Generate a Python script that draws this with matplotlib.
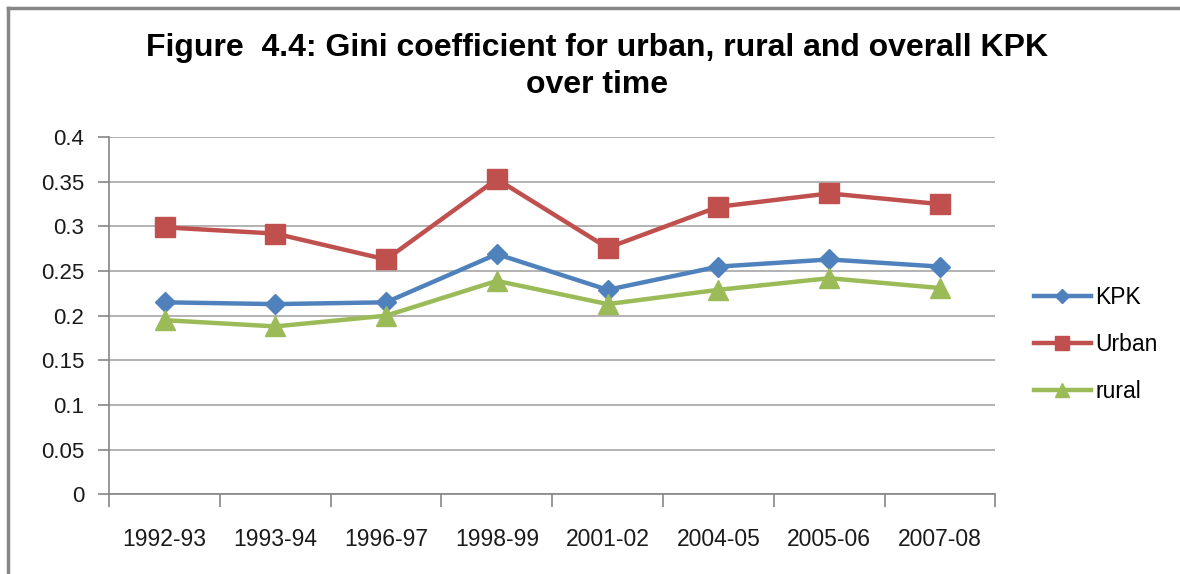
import matplotlib.pyplot as plt
from matplotlib.lines import Line2D

# Data
years = ['1992-93', '1993-94', '1996-97', '1998-99', '2001-02', '2004-05', '2005-06', '2007-08']
kpk = [0.215, 0.213, 0.215, 0.269, 0.229, 0.255, 0.263, 0.255]
urban = [0.299, 0.292, 0.263, 0.353, 0.276, 0.322, 0.337, 0.325]
rural = [0.195, 0.188, 0.200, 0.239, 0.213, 0.229, 0.242, 0.231]

plt.rcParams['font.family'] = ['Liberation Sans', 'DejaVu Sans']

fig = plt.figure(figsize=(11.8, 5.74), dpi=100)
ax = fig.add_axes([0.0925, 0.139, 0.751, 0.622])

x = list(range(len(years)))
ax.plot(x, kpk, color='#4F81BD', linewidth=3.2, marker='D', markersize=10, label='KPK')
ax.plot(x, urban, color='#C0504D', linewidth=3.2, marker='s', markersize=14, label='Urban')
ax.plot(x, rural, color='#9BBB59', linewidth=3.2, marker='^', markersize=14, label='rural')

ax.set_xlim(-0.5, len(years) - 0.5)
ax.set_ylim(0, 0.4)
yt = [0, 0.05, 0.1, 0.15, 0.2, 0.25, 0.3, 0.35, 0.4]
ax.set_yticks(yt)
ax.set_yticklabels(['0', '0.05', '0.1', '0.15', '0.2', '0.25', '0.3', '0.35', '0.4'])
ax.grid(axis='y', color='#A6A6A6', linewidth=1.2)
ax.set_axisbelow(True)

# category labels centred, tick marks on boundaries
ax.set_xticks(x)
ax.set_xticklabels(years)
ax.tick_params(axis='x', length=0, pad=24, labelsize=16.5, colors='#1a1a1a')
ax.set_xticks([i - 0.5 for i in range(len(years) + 1)], minor=True)
ax.tick_params(axis='x', which='minor', length=9, width=1.2, color='#868686', direction='out')
ax.tick_params(axis='y', length=8, width=1.2, color='#868686', labelsize=16, pad=10, labelcolor='#1a1a1a')

for side in ['top', 'right']:
    ax.spines[side].set_visible(False)
for side in ['left', 'bottom']:
    ax.spines[side].set_color('#868686')
    ax.spines[side].set_linewidth(1.2)

fig.text(0.506, 0.884, 'Figure  4.4: Gini coefficient for urban, rural and overall KPK\nover time',
         ha='center', va='center', fontsize=23, fontweight='bold', linespacing=1.32)

ax.legend(loc='center left', bbox_to_anchor=(1.02, 0.42), frameon=False, fontsize=16.5,
          handlelength=2.5, labelspacing=1.05, handletextpad=0.2, markerscale=0.75)

# outer chart border (top and left visible)
fig.add_artist(Line2D([8 / 1180, 1], [1 - 8 / 574, 1 - 8 / 574], color='#878787', linewidth=2.5))
fig.add_artist(Line2D([8 / 1180, 8 / 1180], [0, 1 - 8 / 574], color='#878787', linewidth=2.5))

plt.savefig('out.png', dpi=100)
plt.close()
